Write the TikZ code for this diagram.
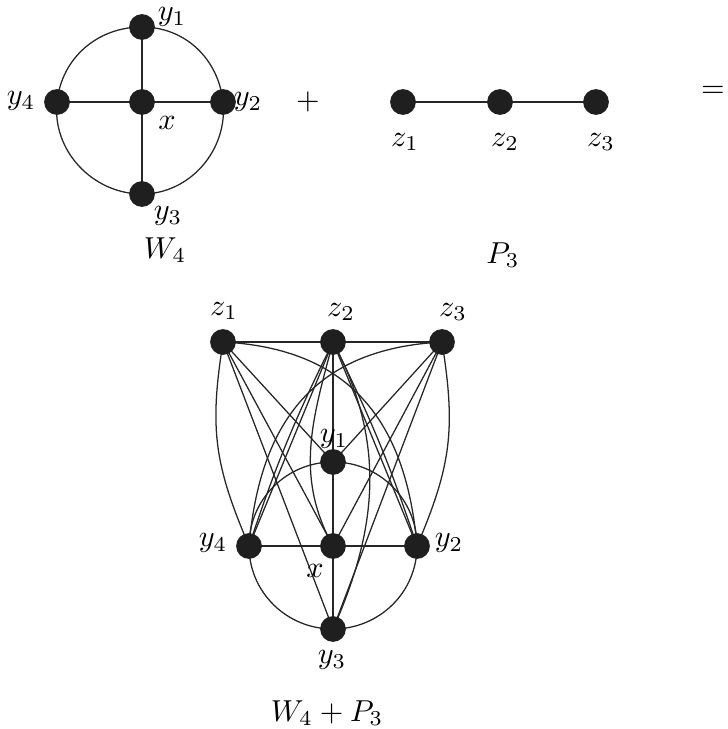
\documentclass[tikz,border=0pt]{standalone}
\pgfdeclarelayer{bg}
\pgfsetlayers{bg,main}
\tikzset{
  dot/.style={circle,fill=black!88,minimum size=8.5pt,inner sep=0pt},
  lab/.style={inner sep=0pt},
  edge/.style={line width=0.42pt,black!85}
}
\begin{document}
\begin{tikzpicture}[x=0.33pt,y=0.33pt]
\useasboundingbox (0,0) rectangle (727,-729);
% ---- W4 ----
\node[dot] (a1) at (142,-27) {};
\node[dot] (a2) at (223,-102) {};
\node[dot] (a3) at (142,-194) {};
\node[dot] (a4) at (57,-102) {};
\node[dot] (ax) at (142,-102) {};
\node[lab] (la1) at (172,-17) {$y_1$};
\node[lab] (la2) at (248,-102) {$y_2$};
\node[lab] (la3) at (168,-216) {$y_3$};
\node[lab] (la4) at (21,-101) {$y_4$};
\node[lab] (lax) at (167,-123) {$x$};
\node[lab] (lW) at (165,-250) {$W_4$};
\begin{pgfonlayer}{bg}
\draw[edge] (a1.center) to[out=0,in=96] (a2.center) to[out=-84,in=0] (a3.center)
  to[out=180,in=-96] (a4.center) to[out=84,in=180] (a1.center);
\draw[edge] (ax.center) -- (a1.center) (ax.center) -- (a2.center)
  (ax.center) -- (a3.center) (ax.center) -- (a4.center);
\end{pgfonlayer}
% ---- plus, P3, equals ----
\node[lab] (plus) at (308,-102) {$+$};
\node[dot] (p1) at (403,-102) {};
\node[dot] (p2) at (500,-102) {};
\node[dot] (p3) at (596,-102) {};
\node[lab] (lp1) at (405,-142) {$z_1$};
\node[lab] (lp2) at (505,-142) {$z_2$};
\node[lab] (lp3) at (601,-142) {$z_3$};
\node[lab] (lP) at (503,-255) {$P_3$};
\node[lab] (eq) at (713,-92) {$=$};
\begin{pgfonlayer}{bg}
\draw[edge] (p1.center) -- (p2.center) -- (p3.center);
\end{pgfonlayer}
% ---- W4 + P3 ----
\node[dot] (z1) at (223,-342) {};
\node[dot] (z2) at (333,-342) {};
\node[dot] (z3) at (442,-342) {};
\node[dot] (y1) at (333,-462) {};
\node[dot] (y2) at (417,-546) {};
\node[dot] (y3) at (333,-629) {};
\node[dot] (y4) at (249,-546) {};
\node[dot] (x) at (333,-546) {};
\node[lab] (lz1) at (224,-311) {$z_1$};
\node[lab] (lz2) at (341,-312) {$z_2$};
\node[lab] (lz3) at (453,-312) {$z_3$};
\node[lab] (ly1) at (334,-439) {$y_1$};
\node[lab] (ly2) at (449,-543) {$y_2$};
\node[lab] (ly3) at (332,-660) {$y_3$};
\node[lab] (ly4) at (213,-543) {$y_4$};
\node[lab] (lx) at (315,-571) {$x$};
\node[lab] (lWP) at (327,-713) {$W_4+P_3$};
\begin{pgfonlayer}{bg}
% wheel
\draw[edge] (y1.center) to[out=0,in=90] (y2.center) to[out=-90,in=0] (y3.center)
  to[out=180,in=-90] (y4.center) to[out=90,in=180] (y1.center);
\draw[edge] (x.center) -- (y1.center) (x.center) -- (y2.center)
  (x.center) -- (y3.center) (x.center) -- (y4.center);
% path
\draw[edge] (z1.center) -- (z2.center) -- (z3.center);
% join from z1
\draw[edge] (z1.center) -- (y1.center);
\draw[edge] (z1.center) -- (x.center);
\draw[edge] (z1.center) -- (y3.center);
\draw[edge] (z1.center) to[out=-99,in=113,looseness=1.1] (y4.center);
\draw[edge] (z1.center) to[out=-3,in=95,looseness=1.15] (y2.center);
% join from z3
\draw[edge] (z3.center) -- (y1.center);
\draw[edge] (z3.center) -- (x.center);
\draw[edge] (z3.center) -- (y3.center);
\draw[edge] (z3.center) to[out=-81,in=67,looseness=1.1] (y2.center);
\draw[edge] (z3.center) to[out=183,in=85,looseness=1.15] (y4.center);
% join from z2
\draw[edge] (z2.center) -- (y1.center);
\draw[edge] (z2.center) -- (y4.center);
\draw[edge] (z2.center) to[bend right=4] (y4.center);
\draw[edge] (z2.center) -- (y2.center);
\draw[edge] (z2.center) to[bend left=4] (y2.center);
\draw[edge] (z2.center) to[out=255,in=119] (x.center);
\draw[edge] (z2.center) to[out=-62,in=66] (y3.center);
\end{pgfonlayer}
\end{tikzpicture}
\end{document}
